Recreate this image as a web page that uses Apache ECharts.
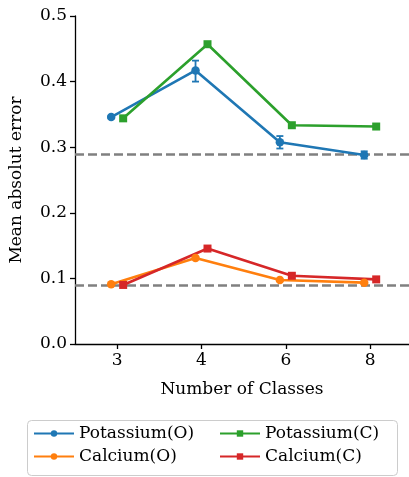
<!DOCTYPE html>
<html>
<head>
<meta charset="utf-8">
<script src="https://cdn.jsdelivr.net/npm/echarts@6/dist/echarts.min.js"></script>
<style>
  html, body { margin: 0; padding: 0; background: #fff; }
  #chart { width: 409px; height: 477px; }
</style>
</head>
<body>
<div id="chart"></div>
<script>
// Number of classes on the x axis
const classCounts = ['3', '4', '6', '8'];

// Mean absolute error per model
const potassiumO = [0.346, 0.417, 0.3075, 0.288];
const potassiumC = [0.344, 0.457, 0.3335, 0.3315];
const calciumO = [0.091, 0.131, 0.0975, 0.0935];
const calciumC = [0.090, 0.1455, 0.104, 0.0985];

// Error bar ranges (low, high) for Potassium(O)
const potassiumOErr = [[0.344, 0.348], [0.400, 0.432], [0.298, 0.317], [0.2825, 0.2937]];

// Reference levels drawn as dashed lines
const baselines = [0.2855, 0.0875];

// Y axis ticks
const yMin = 0, yMax = 0.5, yStep = 0.1;

const FONT = 'DejaVu Serif';
const DODGE = 0.071;
const colors = { kO: '#1f77b4', kC: '#2ca02c', caO: '#ff7f0e', caC: '#d62728' };

const idx = classCounts.map((_, i) => i);
const pts = (vals, shift) => vals.map((v, i) => [i + shift, v]);

function lineSeries(name, vals, shift, color, symbol, size) {
  return {
    name, type: 'line', data: pts(vals, shift),
    symbol, symbolSize: size, showSymbol: true,
    lineStyle: { color, width: 2.6 },
    itemStyle: { color },
    z: 5
  };
}

const errData = potassiumOErr.map((e, i) => [i - DODGE, e[0], e[1]]);

const option = {
  animation: false,
  backgroundColor: '#fff',
  grid: { left: 75, top: 16, right: 0, bottom: 133 },
  xAxis: {
    type: 'value', min: -0.5, max: 3.46,
    name: 'Number of Classes', nameLocation: 'middle', nameGap: 37,
    nameTextStyle: { fontFamily: FONT, fontSize: 17, color: '#000' },
    axisLine: { show: true, onZero: false, lineStyle: { color: '#000', width: 1.3 } },
    axisTick: { show: true, length: 5, customValues: idx, lineStyle: { color: '#000', width: 1.3 } },
    axisLabel: {
      customValues: idx, margin: 8,
      formatter: v => classCounts[Math.round(v)],
      fontFamily: FONT, fontSize: 17, color: '#000'
    },
    splitLine: { show: false }
  },
  yAxis: {
    type: 'value', min: yMin, max: yMax, interval: yStep,
    name: 'Mean absolut error', nameLocation: 'middle', nameGap: 50,
    nameTextStyle: { fontFamily: FONT, fontSize: 17, color: '#000' },
    axisLine: { show: true, onZero: false, lineStyle: { color: '#000', width: 1.3 } },
    axisTick: { show: true, length: 5, lineStyle: { color: '#000', width: 1.3 } },
    axisLabel: {
      margin: 8, formatter: v => v.toFixed(1),
      fontFamily: FONT, fontSize: 17, color: '#000'
    },
    splitLine: { show: false }
  },
  legend: [
    {
      left: 33, top: 424, orient: 'vertical', itemGap: 4,
      itemWidth: 40, itemHeight: 8, padding: 0,
      data: ['Potassium(O)', 'Calcium(O)'],
      textStyle: { fontFamily: FONT, fontSize: 17, color: '#000', lineHeight: 19 }
    },
    {
      left: 219, top: 424, orient: 'vertical', itemGap: 4,
      itemWidth: 40, itemHeight: 8, padding: 0,
      data: ['Potassium(C)', 'Calcium(C)'],
      textStyle: { fontFamily: FONT, fontSize: 17, color: '#000', lineHeight: 19 }
    }
  ],
  graphic: [{
    type: 'rect', left: 27, top: 420,
    shape: { width: 370, height: 55, r: 4 },
    style: { fill: 'rgba(255,255,255,0.8)', stroke: '#cccccc', lineWidth: 1 },
    z: -1
  }],
  series: [
    {
      name: 'baselines', type: 'line', data: [], silent: true,
      markLine: {
        symbol: 'none', silent: true, label: { show: false },
        lineStyle: { color: '#808080', width: 2.6, type: [9, 4] },
        data: baselines.map(b => ({ yAxis: b }))
      },
      z: 2
    },
    lineSeries('Potassium(O)', potassiumO, -DODGE, colors.kO, 'circle', 8.5),
    lineSeries('Potassium(C)', potassiumC, DODGE, colors.kC, 'rect', 8),
    lineSeries('Calcium(O)', calciumO, -DODGE, colors.caO, 'circle', 8.5),
    lineSeries('Calcium(C)', calciumC, DODGE, colors.caC, 'rect', 8),
    {
      name: 'errors', type: 'custom', data: errData, z: 6,
      renderItem(params, api) {
        const x = api.value(0);
        const lo = api.coord([x, api.value(1)]);
        const hi = api.coord([x, api.value(2)]);
        const cap = 3.5;
        const st = { stroke: colors.kO, lineWidth: 1.8 };
        return {
          type: 'group',
          children: [
            { type: 'line', shape: { x1: lo[0], y1: lo[1], x2: hi[0], y2: hi[1] }, style: st },
            { type: 'line', shape: { x1: lo[0] - cap, y1: lo[1], x2: lo[0] + cap, y2: lo[1] }, style: st },
            { type: 'line', shape: { x1: hi[0] - cap, y1: hi[1], x2: hi[0] + cap, y2: hi[1] }, style: st }
          ]
        };
      }
    }
  ]
};

const chart = echarts.init(document.getElementById('chart'), null, { renderer: 'canvas' });
chart.setOption(option);
</script>
</body>
</html>
